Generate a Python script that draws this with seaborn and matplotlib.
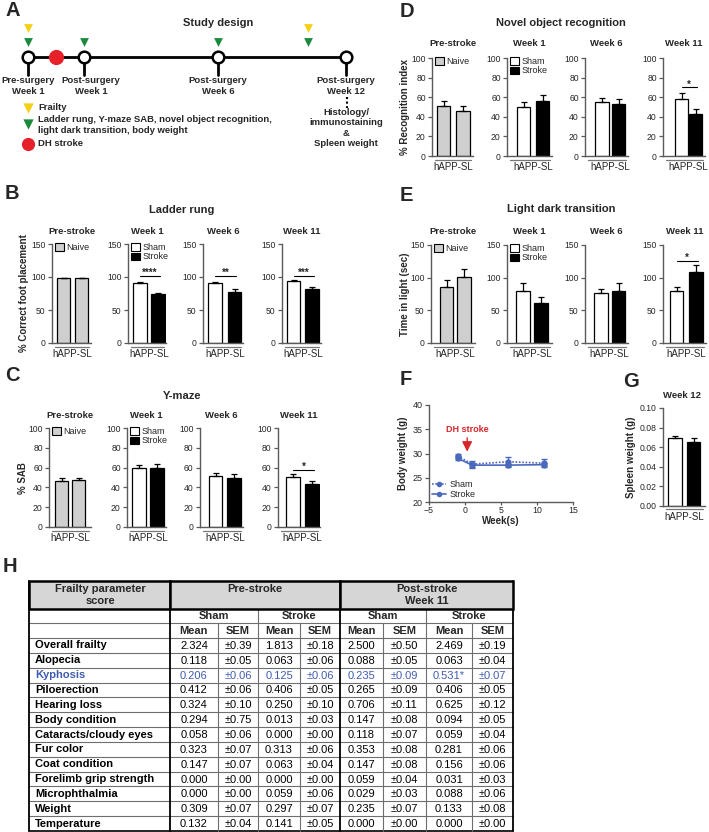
import matplotlib
matplotlib.use('Agg')
import matplotlib.pyplot as plt
from matplotlib.patches import Patch, Rectangle
from matplotlib.lines import Line2D
from matplotlib.ticker import FormatStrFormatter
import numpy as np
import pandas as pd
import seaborn as sns

# ---------------- values ----------------
timepoints = ['Pre-stroke', 'Week 1', 'Week 6', 'Week 11']

ladder_mean = [[98, 98], [91, 74], [91, 78], [94, 82]]
ladder_sem = [[0.6, 0.6], [1.0, 2.5], [1.0, 3.5], [0.8, 3.0]]
ladder_sig = ['', '****', '**', '***']

ymaze_mean = [[46, 47], [60, 60], [52, 49], [51, 43]]
ymaze_sem = [[3, 2], [3, 4], [3, 5], [3, 3.5]]
ymaze_sig = ['', '', '', '*']

nor_mean = [[51, 46], [50, 56], [55, 53], [58.5, 42.5]]
nor_sem = [[5, 5], [5.5, 6.5], [4.5, 5], [6, 5]]
nor_sig = ['', '', '', '*']

ldt_mean = [[85, 101], [80, 61], [76, 80], [79, 108]]
ldt_sem = [[11, 13], [12, 9], [7, 12], [7, 12]]
ldt_sig = ['', '', '', '*']

bw_weeks = [-1, 1, 6, 11]
bw_sham = [29.5, 27.8, 28.3, 28.0]
bw_sham_sem = [0.5, 0.7, 0.9, 0.8]
bw_stroke = [29.0, 27.6, 27.6, 27.7]
bw_stroke_sem = [0.4, 0.4, 0.3, 0.3]

spleen_mean = [0.069, 0.0655]
spleen_sem = [0.0025, 0.0035]

frailty_params = ['Overall frailty', 'Alopecia', 'Kyphosis', 'Piloerection', 'Hearing loss',
                  'Body condition', 'Cataracts/cloudy eyes', 'Fur color', 'Coat condition',
                  'Forelimb grip strength', 'Microphthalmia', 'Weight', 'Temperature']
pre_sham_mean = [2.324, 0.118, 0.206, 0.412, 0.324, 0.294, 0.058, 0.323, 0.147, 0.000, 0.000, 0.309, 0.132]
pre_sham_sem = [0.39, 0.05, 0.06, 0.06, 0.10, 0.75, 0.06, 0.07, 0.07, 0.00, 0.00, 0.07, 0.04]
pre_stroke_mean = [1.813, 0.063, 0.125, 0.406, 0.250, 0.013, 0.000, 0.313, 0.063, 0.000, 0.059, 0.297, 0.141]
pre_stroke_sem = [0.18, 0.06, 0.06, 0.05, 0.10, 0.03, 0.00, 0.06, 0.04, 0.00, 0.06, 0.07, 0.05]
post_sham_mean = [2.500, 0.088, 0.235, 0.265, 0.706, 0.147, 0.118, 0.353, 0.147, 0.059, 0.029, 0.235, 0.000]
post_sham_sem = [0.50, 0.05, 0.09, 0.09, 0.11, 0.08, 0.07, 0.08, 0.08, 0.04, 0.03, 0.07, 0.00]
post_stroke_mean = [2.469, 0.063, 0.531, 0.406, 0.625, 0.094, 0.059, 0.281, 0.156, 0.031, 0.088, 0.133, 0.000]
post_stroke_sem = [0.19, 0.04, 0.07, 0.05, 0.12, 0.05, 0.04, 0.06, 0.06, 0.03, 0.06, 0.08, 0.00]
post_stroke_mark = ['', '', '*', '', '', '', '', '', '', '', '', '', '']

# study design timeline
visit_labels = ['Pre-surgery\nWeek 1', 'Post-surgery\nWeek 1', 'Post-surgery\nWeek 6', 'Post-surgery\nWeek 12']

# ---------------- style ----------------
sns.set_theme(style='ticks')
plt.rcParams['font.family'] = ['Liberation Sans', 'DejaVu Sans']
AXC = '#5a5a5a'
BLUE = '#4a69bd'
RED = '#d7262b'
GRAY = '#cfcfcf'

W, H = 709, 832
fig = plt.figure(figsize=(W / 100, H / 100), dpi=100)

# overlay axes in pixel coordinates for diagram, labels and table
ax0 = fig.add_axes([0, 0, 1, 1])
ax0.set_xlim(0, W)
ax0.set_ylim(H, 0)
ax0.axis('off')


def put(x, y, s, size=7, weight='bold', ha='center', va='center', **kw):
    ax0.text(x, y, s, fontsize=size, fontweight=weight, ha=ha, va=va, **kw)


def px_axes(left, top, right, bottom):
    return fig.add_axes([left / W, 1 - bottom / H, (right - left) / W, (bottom - top) / H])


def style_axes(ax):
    for sp in ['top', 'right']:
        ax.spines[sp].set_visible(False)
    for sp in ['left', 'bottom']:
        ax.spines[sp].set_color(AXC)
        ax.spines[sp].set_linewidth(1)
    ax.tick_params(axis='y', length=3, width=0.9, color=AXC, labelsize=6.2, pad=1.5, direction='out')
    ax.set_facecolor('none')


def bar_axes(cols, top, bottom, means, sems, palette, ymax, yticks, fmt=None):
    left, c0, c1, right = cols
    ax = px_axes(left, top, right, bottom)
    s = c1 - c0
    d = pd.DataFrame({'grp': ['g0', 'g1'], 'val': means})
    sns.barplot(data=d, x='grp', y='val', hue='grp', palette=palette, legend=False,
                errorbar=None, width=13.5 / s, edgecolor='black', linewidth=0.9, ax=ax)
    ax.errorbar([0, 1], means, yerr=[[0, 0], sems], fmt='none', ecolor='black',
                elinewidth=0.9, capsize=2.2, capthick=0.9, zorder=3)
    ax.set_xlim((left - c0) / s, (right - c0) / s)
    ax.set_ylim(0, ymax)
    ax.set_yticks(yticks)
    if fmt:
        ax.yaxis.set_major_formatter(FormatStrFormatter(fmt))
    ax.set_xticks([0.5], ['hAPP-SL'])
    ax.tick_params(axis='x', length=0, pad=4.2, labelsize=7)
    ax.set_xlabel('')
    ax.set_ylabel('')
    style_axes(ax)
    w, h = right - left, bottom - top
    ax.plot([3 / w, 1 - 2 / w], [-3.5 / h, -3.5 / h], transform=ax.transAxes,
            color='#777777', lw=0.9, clip_on=False)
    return ax


def add_sig(ax, text, y):
    if not text:
        return
    ax.plot([0, 1.1], [y, y], color='black', lw=0.8)
    ax.text(0.55, y, text, ha='center', va='baseline', fontsize=7, fontweight='bold')


def bar_row(cols, top, bottom, title_y, means, sems, sigs, sig_y, ymax, yticks):
    axes = []
    for i, c in enumerate(cols):
        pal = [GRAY, GRAY] if i == 0 else ['white', 'black']
        ax = bar_axes(c, top, bottom, means[i], sems[i], pal, ymax, yticks)
        add_sig(ax, sigs[i], sig_y)
        put((c[0] + c[3]) / 2, title_y, timepoints[i], size=6.8)
        w = c[3] - c[0]
        if i == 0:
            handles = [Patch(facecolor=GRAY, edgecolor='black', lw=0.8, label='Naive')]
        elif i == 1:
            handles = [Patch(facecolor='white', edgecolor='black', lw=0.8, label='Sham'),
                       Patch(facecolor='black', edgecolor='black', lw=0.8, label='Stroke')]
        else:
            handles = None
        if handles:
            ax.legend(handles=handles, loc='upper left', bbox_to_anchor=(3 / w, 1.01),
                      frameon=False, fontsize=6.5, borderaxespad=0, borderpad=0,
                      handlelength=1.0, handleheight=0.9, handletextpad=0.3, labelspacing=0.05)
        axes.append(ax)
    return axes


# ---------------- A: study design ----------------
tl_x = [28, 84, 218, 346]
lab_x = [28, 91, 218, 346]
ax0.plot([tl_x[0], tl_x[-1]], [57, 57], color='black', lw=2, zorder=2)
for x in tl_x:
    ax0.plot([x, x], [63, 75], color='black', lw=2, zorder=2)
ax0.scatter(tl_x, [57] * 4, s=70, facecolor='white', edgecolor='black', linewidths=1.8, zorder=3)
ax0.scatter([56], [57], s=120, color='#e62129', zorder=3, linewidths=0)
ax0.scatter([28, 84, 218, 308], [42] * 4, marker='v', s=40, color='#1b8a3c', linewidths=0, zorder=3)
ax0.scatter([28, 308], [28] * 2, marker='v', s=40, color='#f5cf12', linewidths=0, zorder=3)
put(218, 23, 'Study design', size=8)
for x, lab in zip(lab_x, visit_labels):
    put(x, 86, lab, size=6.8, linespacing=1.15)
ax0.plot([347, 347], [97, 108], color='black', lw=1.5, ls=(0, (1, 1.2)))
put(346, 108, 'Histology/\nimmunostaining\n&\nSpleen weight', size=6.8, va='top', linespacing=1.2)
ax0.scatter([28], [108], marker='v', s=55, color='#f5cf12', linewidths=0)
ax0.scatter([28], [124], marker='v', s=55, color='#1b8a3c', linewidths=0)
ax0.scatter([28], [143.5], s=90, color='#e62129', linewidths=0)
put(38, 108, 'Frailty', size=6.8, ha='left')
put(38, 125, 'Ladder rung, Y-maze SAB, novel object recognition,\nlight dark transition, body weight',
    size=6.8, ha='left', linespacing=1.15)
put(38, 143.5, 'DH stroke', size=6.8, ha='left')

# ---------------- B: ladder rung ----------------
B_cols = [(52, 63.5, 81.5, 91), (128, 140, 158, 166), (203, 215, 234.5, 243), (282, 293.5, 312, 321)]
bar_row(B_cols, 244, 343, 231, ladder_mean, ladder_sem, ladder_sig, 101, 150, [0, 50, 100, 150])
put(182, 210, 'Ladder rung', size=8)
put(24, 293, '% Correct foot placement', size=7, rotation=90)

# ---------------- C: Y-maze ----------------
C_cols = [(49, 61.5, 78.5, 91), (127, 139, 157, 166), (200, 215.5, 234, 243), (278, 293, 312, 320)]
bar_row(C_cols, 428, 527, 415, ymaze_mean, ymaze_sem, ymaze_sig, 58, 100, [0, 20, 40, 60, 80, 100])
put(182, 396, 'Y-maze', size=8)
put(23, 478, '% SAB', size=7, rotation=90)

# ---------------- D: novel object recognition ----------------
D_cols = [(432, 443.5, 463, 473), (507, 523.5, 542.5, 552), (585, 602, 618.5, 628), (663, 681.5, 695.5, 705)]
bar_row(D_cols, 58, 156, 43, nor_mean, nor_sem, nor_sig, 70, 100, [0, 20, 40, 60, 80, 100])
put(561, 23, 'Novel object recognition', size=8)
put(405, 107, '% Recognition index', size=7, rotation=90)

# ---------------- E: light dark transition ----------------
E_cols = [(431, 446.5, 464, 475), (507, 523, 541, 552), (585, 601, 618.5, 628), (663, 676.5, 696, 706)]
bar_row(E_cols, 245, 343, 231, ldt_mean, ldt_sem, ldt_sig, 126, 150, [0, 50, 100, 150])
put(561, 209, 'Light dark transition', size=8)
put(405, 294, 'Time in light (sec)', size=7, rotation=90)

# ---------------- F: body weight ----------------
axF = px_axes(429, 405, 573, 502)
bw_df = pd.DataFrame({'week': bw_weeks * 2, 'weight': bw_sham + bw_stroke,
                      'group': ['Sham'] * 4 + ['Stroke'] * 4})
sns.lineplot(data=bw_df, x='week', y='weight', style='group', markers={'Sham': 'o', 'Stroke': 'o'},
             dashes={'Sham': (1, 1), 'Stroke': ''}, color=BLUE, lw=1.2, markersize=4.5,
             markeredgewidth=0, legend=False, errorbar=None, ax=axF)
axF.errorbar(bw_weeks, bw_sham, yerr=bw_sham_sem, fmt='none', ecolor=BLUE, elinewidth=1, capsize=2)
axF.errorbar(bw_weeks, bw_stroke, yerr=bw_stroke_sem, fmt='none', ecolor=BLUE, elinewidth=1, capsize=2)
axF.set_xlim(-5, 15)
axF.set_ylim(20, 40)
axF.set_xticks([-5, 0, 5, 10, 15])
axF.set_yticks([20, 25, 30, 35, 40])
axF.set_xlabel('')
axF.set_ylabel('')
style_axes(axF)
axF.tick_params(axis='x', length=2.5, width=0.9, color=AXC, labelsize=6.3, pad=0.5)
axF.tick_params(axis='y', labelsize=6.5)
axF.annotate('', xy=(0.3, 29.8), xytext=(0.3, 33.8),
             arrowprops=dict(arrowstyle='-|>,head_length=0.5,head_width=0.25', color=RED, lw=1))
axF.text(0.3, 34.9, 'DH stroke', color=RED, fontsize=6.5, fontweight='bold', ha='center', va='center')
axF.legend(handles=[Line2D([], [], color=BLUE, ls=(0, (1, 1)), marker='o', ms=4, mew=0, lw=1.2, label='Sham'),
                    Line2D([], [], color=BLUE, ls='-', marker='o', ms=4, mew=0, lw=1.2, label='Stroke')],
           loc='lower left', bbox_to_anchor=(0.02, 0.03), frameon=False, fontsize=6.5,
           borderaxespad=0, borderpad=0, handlelength=1.6, handletextpad=0.4, labelspacing=0.1)
put(501, 521, 'Week(s)', size=7)
put(403, 453, 'Body weight (g)', size=7, rotation=90)

# ---------------- G: spleen weight ----------------
axG = bar_axes((663, 675, 693.5, 705), 408, 506, spleen_mean, spleen_sem, ['white', 'black'],
               0.10, [0, 0.02, 0.04, 0.06, 0.08, 0.10], fmt='%.2f')
put(682, 396, 'Week 12', size=6.8)
put(631, 457, 'Spleen weight (g)', size=7, rotation=90)

# ---------------- panel letters ----------------
for letter, (x, y) in {'A': (5, 4), 'B': (5, 187), 'C': (5, 369), 'D': (400, 5), 'E': (400, 189),
                       'F': (400, 373), 'G': (623, 375), 'H': (3, 560)}.items():
    put(x, y - 3, letter, size=14.5, ha='left', va='top')

# ---------------- H: frailty table ----------------
col_x = [29, 170, 218, 258, 300, 340, 383, 426, 472, 513]
hdr_top, hdr_bot, grp_bot, ms_bot, tbl_bot = 581, 609, 623, 638, 831
row_h = (tbl_bot - ms_bot) / len(frailty_params)
for a, b in [(29, 170), (170, 340), (340, 513)]:
    ax0.add_patch(Rectangle((a, hdr_top), b - a, hdr_bot - hdr_top, facecolor='#d6d6d6',
                            edgecolor='black', lw=1.8, zorder=3))
put(100, 595, 'Frailty parameter\nscore', size=8, linespacing=1.2, zorder=4)
put(255, 589, 'Pre-stroke', size=8, zorder=4)
put(426.5, 595, 'Post-stroke\nWeek 11', size=8, linespacing=1.2, zorder=4)

grid = '#6e6e6e'
for y in [grp_bot, ms_bot] + [ms_bot + k * row_h for k in range(1, len(frailty_params))]:
    ax0.plot([29, 513], [y, y], color=grid, lw=0.8)
ax0.plot([29, 513], [tbl_bot, tbl_bot], color='black', lw=1.2)
for x in [29, 170, 340, 513]:
    ax0.plot([x, x], [hdr_top, tbl_bot], color='black', lw=1.3)
for x in [258, 426]:
    ax0.plot([x, x], [hdr_bot, tbl_bot], color=grid, lw=0.8)
for x in [218, 300, 383, 472]:
    ax0.plot([x, x], [grp_bot, tbl_bot], color=grid, lw=0.8)

for a, b, lab in [(170, 258, 'Sham'), (258, 340, 'Stroke'), (340, 426, 'Sham'), (426, 513, 'Stroke')]:
    put((a + b) / 2, (hdr_bot + grp_bot) / 2, lab, size=8)
centers = [(col_x[k] + col_x[k + 1]) / 2 for k in range(1, 9)]
for k, cx in enumerate(centers):
    put(cx, (grp_bot + ms_bot) / 2, 'Mean' if k % 2 == 0 else 'SEM', size=8)

for i, name in enumerate(frailty_params):
    yc = ms_bot + (i + 0.5) * row_h
    color = '#3f5cb0' if name == 'Kyphosis' else 'black'
    put(35, yc, name, size=8, ha='left', color=color)
    cells = [f'{pre_sham_mean[i]:.3f}', f'±{pre_sham_sem[i]:.2f}',
             f'{pre_stroke_mean[i]:.3f}', f'±{pre_stroke_sem[i]:.2f}',
             f'{post_sham_mean[i]:.3f}', f'±{post_sham_sem[i]:.2f}',
             f'{post_stroke_mean[i]:.3f}{post_stroke_mark[i]}', f'±{post_stroke_sem[i]:.2f}']
    for cx, txt in zip(centers, cells):
        put(cx, yc + 0.5, txt, size=8, weight='normal', color=color)

fig.savefig('out.png', dpi=100)
